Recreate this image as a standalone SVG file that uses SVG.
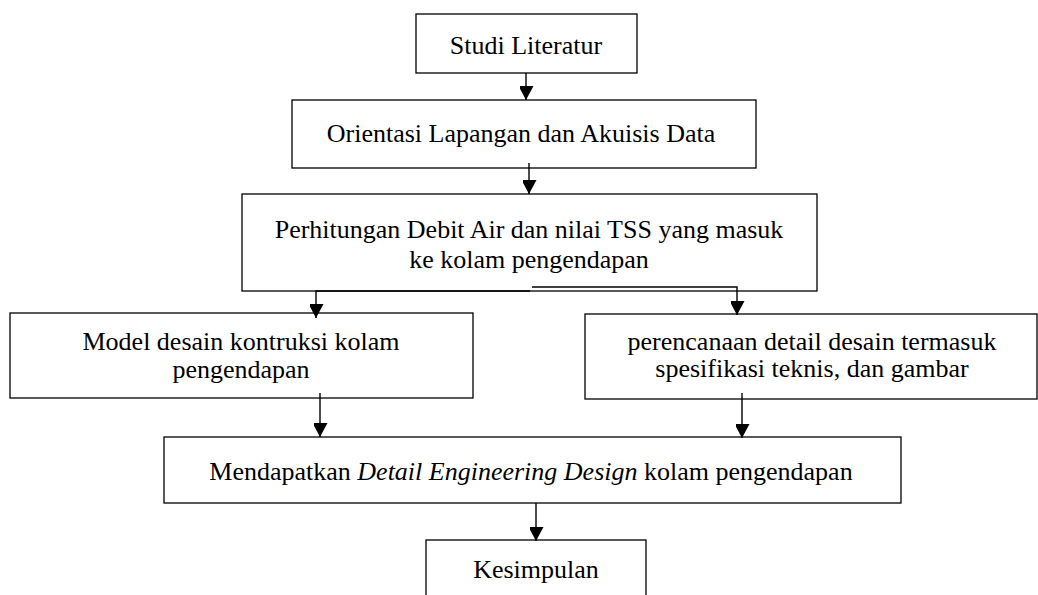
<svg xmlns="http://www.w3.org/2000/svg" width="1038" height="595" viewBox="0 0 1038 595">
<style>
.box{fill:#fff;stroke:#000;stroke-width:1.3}
.t{font-family:"Liberation Serif","Times New Roman",serif;font-size:26px;fill:#000;text-anchor:middle}
.c{fill:none;stroke:#000;stroke-width:1.4}
</style>
<defs>
<marker id="ah" markerWidth="15" markerHeight="14" refX="14" refY="7.5" orient="auto" markerUnits="userSpaceOnUse">
<path d="M0,0 L14,7.5 L0,15 Z" fill="#000"/>
</marker>
</defs>
<rect width="1038" height="595" fill="#fff"/>
<g id="n1"><rect class="box" x="416" y="14" width="221" height="59"/><text class="t" x="526" y="54">Studi Literatur</text></g>
<g id="n2"><rect class="box" x="292" y="100" width="464" height="68"/><text class="t" x="521" y="142">Orientasi Lapangan dan Akuisis Data</text></g>
<g id="n3"><rect class="box" x="242" y="194" width="575" height="97"/><text class="t" x="529" y="238">Perhitungan Debit Air dan nilai TSS yang masuk</text><text class="t" x="529" y="268">ke kolam pengendapan</text></g>
<g id="n4"><rect class="box" x="10" y="313" width="463" height="85"/><text class="t" x="241" y="350">Model desain kontruksi kolam</text><text class="t" x="241" y="378">pengendapan</text></g>
<g id="n5"><rect class="box" x="585" y="314" width="452" height="85"/><text class="t" x="812" y="350">perencanaan detail desain termasuk</text><text class="t" x="812" y="377">spesifikasi teknis, dan gambar</text></g>
<g id="n6"><rect class="box" x="164" y="437" width="737" height="66"/><text class="t" x="531" y="480">Mendapatkan <tspan font-style="italic">Detail Engineering Design</tspan> kolam pengendapan</text></g>
<g id="n7"><rect class="box" x="426" y="540" width="220" height="70"/><text class="t" x="536" y="578">Kesimpulan</text></g>
<g id="connectors">
<path class="c" d="M526,73 V100" marker-end="url(#ah)"/>
<path class="c" d="M529,163 V194" marker-end="url(#ah)"/>
<path class="c" d="M530,291 H316 V318" marker-end="url(#ah)"/>
<path class="c" d="M532,287 H737 V315" marker-end="url(#ah)"/>
<path class="c" d="M320,393 V437" marker-end="url(#ah)"/>
<path class="c" d="M742,393 V438" marker-end="url(#ah)"/>
<path class="c" d="M536,503 V541" marker-end="url(#ah)"/>
</g>
</svg>
